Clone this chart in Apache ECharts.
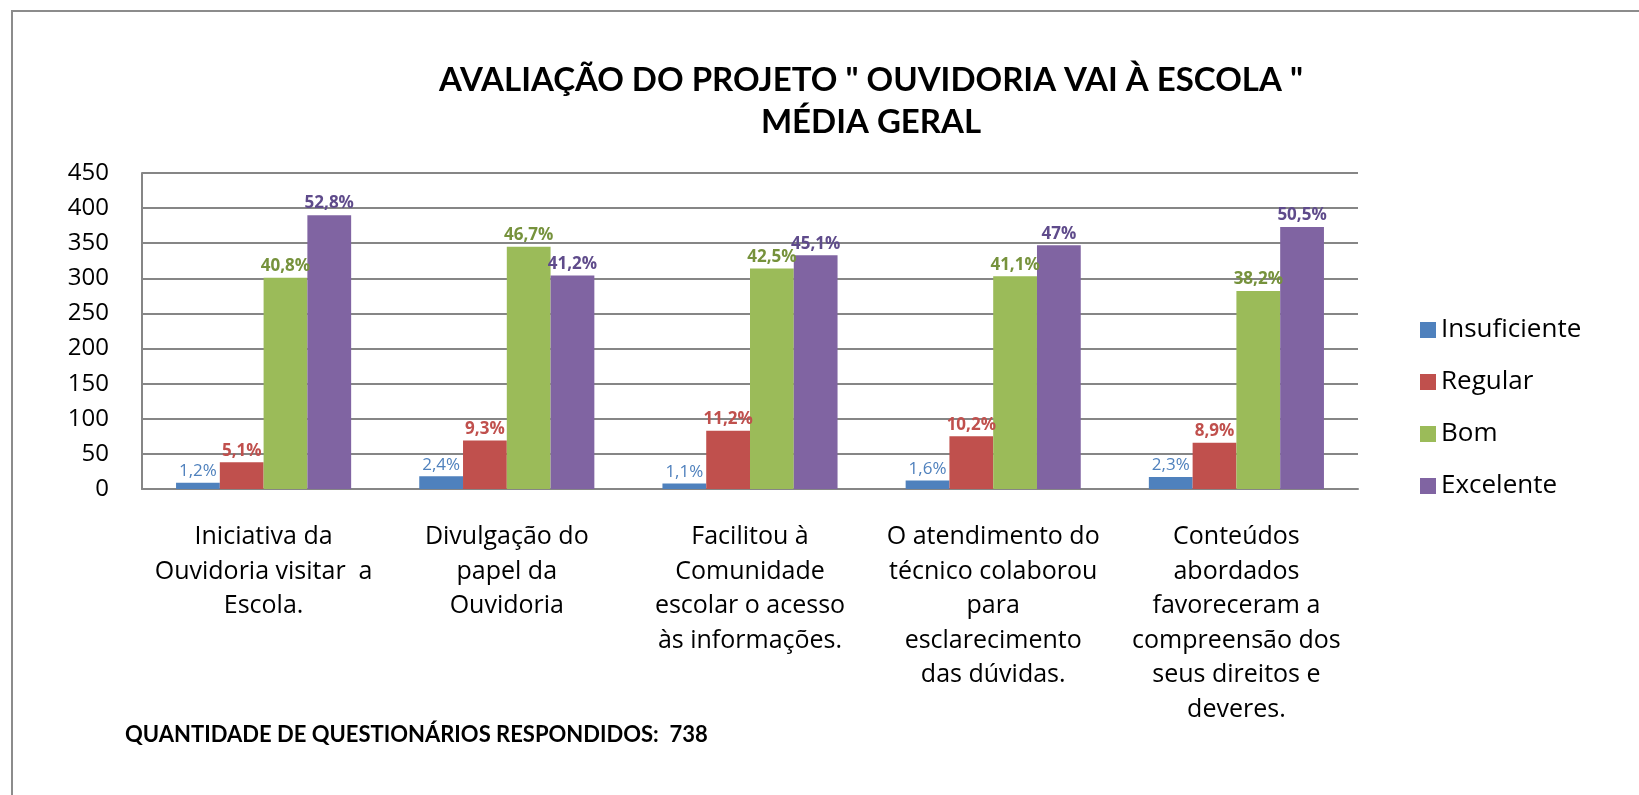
<!DOCTYPE html>
<html>
<head>
<meta charset="utf-8" />
<title>Avaliação do Projeto</title>
<script src="https://cdn.jsdelivr.net/npm/echarts@6/dist/echarts.min.js"></script>
<style>
  html, body { margin: 0; padding: 0; background: #fff; }
  #chart { width: 1639px; height: 795px; }
</style>
</head>
<body>
<div id="chart"></div>
<script>
// categorias do eixo x
const categories = [
  "Iniciativa da\nOuvidoria visitar  a\nEscola.",
  "Divulgação do\npapel da\nOuvidoria",
  "Facilitou à\nComunidade\nescolar o acesso\nàs informações.",
  "O atendimento do\ntécnico colaborou\npara\nesclarecimento\ndas dúvidas.",
  "Conteúdos\nabordados\nfavoreceram a\ncompreensão dos\nseus direitos e\ndeveres.",
];

const seriesNames = ["Insuficiente", "Regular", "Bom", "Excelente"];

// quantidade de respostas
const insuficiente = [9, 18, 8, 12, 17];
const regular = [38, 69, 83, 75, 66];
const bom = [301, 345, 314, 303, 282];
const excelente = [390, 304, 333, 347, 373];

// rótulos percentuais
const pctInsuficiente = ["1,2%", "2,4%", "1,1%", "1,6%", "2,3%"];
const pctRegular = ["5,1%", "9,3%", "11,2%", "10,2%", "8,9%"];
const pctBom = ["40,8%", "46,7%", "42,5%", "41,1%", "38,2%"];
const pctExcelente = ["52,8%", "41,2%", "45,1%", "47%", "50,5%"];

const yTicks = [0, 50, 100, 150, 200, 250, 300, 350, 400, 450];

const font = "'Open Sans', Lato, sans-serif";
const colors = ["#4F81BD", "#C0504D", "#9BBB59", "#8064A2"];
const labelColors = ["#4F81BD", "#C0504D", "#76923C", "#5F4B8B"];

function makeSeries(idx, values, pct) {
  return {
    name: seriesNames[idx],
    type: "bar",
    data: values,
    barGap: "0%",
    barCategoryGap: "28%",
    itemStyle: { color: colors[idx] },
    label: {
      show: true,
      position: "top",
      distance: 3,
      fontFamily: font,
      fontSize: 17,
      fontWeight: idx < 1 ? "normal" : "bold",
      color: labelColors[idx],
      formatter: function (params) {
        return pct[params.dataIndex];
      },
    },
  };
}

const chart = echarts.init(document.getElementById("chart"));

chart.setOption({
  backgroundColor: "#fff",
  animation: false,
  color: colors,
  title: {
    text: 'AVALIAÇÃO DO PROJETO " OUVIDORIA VAI À ESCOLA "\nMÉDIA GERAL',
    left: 866,
    top: 54,
    textAlign: "center",
    textStyle: {
      fontFamily: "Lato, sans-serif",
      fontSize: 33,
      fontWeight: "bold",
      color: "#000",
      lineHeight: 42,
      align: "center",
    },
  },
  legend: {
    orient: "vertical",
    left: 1415,
    top: 311,
    itemWidth: 16,
    itemHeight: 16,
    itemGap: 24,
    icon: "rect",
    data: seriesNames,
    textStyle: {
      fontFamily: font,
      fontSize: 26,
      color: "#000",
      lineHeight: 28,
    },
  },
  grid: {
    left: 142,
    right: 281,
    top: 173,
    bottom: 306,
  },
  xAxis: {
    type: "category",
    data: categories,
    axisTick: { show: false },
    axisLine: { lineStyle: { color: "#868686", width: 2 } },
    axisLabel: {
      interval: 0,
      margin: 31,
      fontFamily: font,
      fontSize: 25,
      lineHeight: 34.5,
      color: "#000",
    },
  },
  yAxis: {
    type: "value",
    min: yTicks[0],
    max: yTicks[yTicks.length - 1],
    interval: 50,
    axisLine: { show: true, lineStyle: { color: "#868686", width: 2 } },
    axisTick: { show: false },
    axisLabel: {
      margin: 33,
      fontFamily: font,
      fontSize: 24,
      color: "#000",
    },
    splitLine: { lineStyle: { color: "#868686", width: 2 } },
  },
  graphic: [
    {
      type: "polyline",
      shape: { points: [[12, 795], [12, 11], [1639, 11]] },
      style: { stroke: "#8c8c8c", lineWidth: 2, fill: null },
    },
    {
      type: "text",
      left: 125,
      top: 724,
      style: {
        text: "QUANTIDADE DE QUESTIONÁRIOS RESPONDIDOS:  738",
        font: "bold 22px Lato, sans-serif",
        fill: "#000",
      },
    },
  ],
  series: [
    makeSeries(0, insuficiente, pctInsuficiente),
    makeSeries(1, regular, pctRegular),
    makeSeries(2, bom, pctBom),
    makeSeries(3, excelente, pctExcelente),
  ],
});
</script>
</body>
</html>
